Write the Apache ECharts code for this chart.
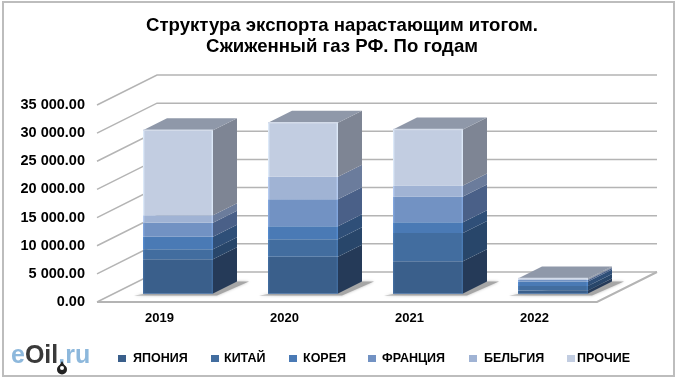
<!DOCTYPE html>
<html>
<head>
<meta charset="utf-8">
<style>
  html, body { margin: 0; padding: 0; background: #fff; }
  #chart { width: 680px; height: 384px; }
</style>
<script src="https://cdn.jsdelivr.net/npm/echarts@6/dist/echarts.min.js"></script>
</head>
<body>
<div id="chart"></div>
<script>
var years = ['2019', '2020', '2021', '2022'];
var seriesNames = ['ЯПОНИЯ', 'КИТАЙ', 'КОРЕЯ', 'ФРАНЦИЯ', 'БЕЛЬГИЯ', 'ПРОЧИЕ'];
var japan = [6100, 6510, 5740, 550];
var china = [1780, 3140, 5030, 800];
var korea = [2190, 2310, 1890, 800];
var france = [2490, 4800, 4560, 250];
var belgium = [1360, 3970, 1950, 130];
var other = [15100, 9590, 9950, 130];
var yTicks = [0, 5000, 10000, 15000, 20000, 25000, 30000, 35000];

var frontColors = ['#3a5f8b', '#426d9f', '#4a7ab5', '#7292c3', '#a0b3d4', '#c2cde1'];
var sideColors = ['#253a58', '#28466a', '#2f4f78', '#4a6088', '#6b7c9c', '#7e8594'];
var topColor = '#8f98a9';
var wallColor = '#b4b4b4';

var table = [japan, china, korea, france, belgium, other];

// 3d offsets in px
var wallDx = 60, wallDy = -30;
var floorDx = 18.5, floorDy = -8.5;
var barDx = 24, barDy = -12;
var barHalf = 35;

// legend entries are spaced unevenly in the original
var legendLeft = [118, 211, 289, 368, 469, 567];
var legendTextPad = [2, 0, 1, 1, 2, -3];

function edgeFill(color) {
    var lighter = echarts.color.lift(color, -0.18);
    return new echarts.graphic.LinearGradient(0, 0, 1, 0, [
        { offset: 0, color: lighter },
        { offset: 0.03, color: color },
        { offset: 0.97, color: color },
        { offset: 1, color: lighter }
    ]);
}

// walls + floor, drawn behind the bars
function renderWall(params, api) {
    var p = api.coord([0, api.value(0)]);
    var band = api.size([1, 0])[0];
    var x0 = p[0] - band / 2;
    var x1 = x0 + band * years.length;
    var y = p[1];
    var style = { stroke: wallColor, lineWidth: 1.5, fill: null };
    return {
        type: 'group',
        children: [
            { type: 'polyline', shape: { points: [[x0, y], [x0 + wallDx, y + wallDy], [x1 + wallDx, y + wallDy]] }, style: style },
            api.value(0) === 0 ? {
                type: 'polyline',
                shape: { points: [[x0, y], [x1, y], [x1 + wallDx, y + wallDy]] },
                style: { stroke: wallColor, lineWidth: 2, fill: null }
            } : { type: 'group', children: [] }
        ]
    };
}

function renderShadow(params, api) {
    var p = api.coord([api.value(0), 0]);
    var cx = p[0] + floorDx, y = p[1] + floorDy;
    return {
        type: 'polygon',
        shape: { points: [
            [cx - barHalf - 9, y + 2], [cx + barHalf + 4, y + 2],
            [cx + barHalf + barDx + 12, y + barDy], [cx + barHalf + barDx, y + barDy]
        ] },
        style: { fill: '#a6a6a6', shadowBlur: 3, shadowColor: '#bbb' }
    };
}

function makeRender(idx) {
    return function (params, api) {
        var i = api.value(0);
        var a = api.coord([i, api.value(1)]);
        var b = api.coord([i, api.value(2)]);
        var left = a[0] + floorDx - barHalf;
        var right = a[0] + floorDx + barHalf;
        var y0 = a[1] + floorDy;
        var y1 = b[1] + floorDy;
        var children = [
            { type: 'rect', shape: { x: left, y: y1, width: right - left, height: y0 - y1 }, style: { fill: edgeFill(frontColors[idx]) } },
            { type: 'polygon', shape: { points: [[right, y0], [right + barDx, y0 + barDy], [right + barDx, y1 + barDy], [right, y1]] }, style: { fill: sideColors[idx] } }
        ];
        if (idx === 0) {
            children.push({ type: 'line', shape: { x1: left, y1: y0, x2: right, y2: y0 }, style: { stroke: '#5d80ab', lineWidth: 1 } });
        }
        if (idx === table.length - 1) {
            children.push({ type: 'polygon', shape: { points: [[left, y1], [right, y1], [right + barDx, y1 + barDy], [left + barDx, y1 + barDy]] }, style: { fill: topColor } });
            children.push({ type: 'line', shape: { x1: left, y1: y1, x2: right, y2: y1 }, style: { stroke: '#d3dbe9', lineWidth: 1.5 } });
        }
        return { type: 'group', children: children };
    };
}

var series = [
    { type: 'custom', name: 'walls', renderItem: renderWall, data: yTicks.map(function (v) { return [v]; }), encode: { y: 0 }, silent: true, z: 1 },
    { type: 'custom', name: 'shadow', renderItem: renderShadow, data: years.map(function (y, i) { return [i]; }), encode: { x: 0 }, silent: true, z: 2 }
];

seriesNames.forEach(function (name, s) {
    series.push({
        type: 'custom',
        name: name,
        itemStyle: { color: frontColors[s] },
        renderItem: makeRender(s),
        z: 3,
        encode: { x: 0, y: [1, 2] },
        data: years.map(function (y, i) {
            var base = 0;
            for (var k = 0; k < s; k++) base += table[k][i];
            return [i, base, base + table[s][i]];
        })
    });
});

var chart = echarts.init(document.getElementById('chart'), null, { renderer: 'canvas' });

chart.setOption({
    animation: false,
    backgroundColor: '#fff',
    textStyle: { fontFamily: 'Liberation Sans' },
    title: {
        text: 'Структура экспорта нарастающим итогом.\nСжиженный газ РФ. По годам',
        left: 337,
        top: 10,
        textAlign: 'center',
        textStyle: { fontSize: 18.6, fontWeight: 'bold', color: '#000', lineHeight: 21, fontFamily: 'Liberation Sans' }
    },
    legend: seriesNames.map(function (name, i) {
        return {
            data: [name],
            left: legendLeft[i],
            top: 352,
            padding: 0,
            itemWidth: 8,
            itemHeight: 7,
            icon: 'rect',
            textStyle: { fontSize: 12.5, fontWeight: 'bold', color: '#000', padding: [0, 0, 0, legendTextPad[i]] }
        };
    }),
    grid: { left: 97, top: 105, width: 500, height: 197 },
    xAxis: {
        type: 'category',
        data: years,
        axisLine: { show: false },
        axisTick: { show: false },
        axisLabel: { fontSize: 13, fontWeight: 'bold', color: '#000', margin: 10 }
    },
    yAxis: {
        type: 'value',
        min: 0,
        max: 35000,
        interval: 5000,
        axisLine: { show: false },
        axisTick: { show: false },
        splitLine: { show: false },
        axisLabel: {
            fontSize: 14.5,
            fontWeight: 'bold',
            color: '#000',
            margin: 12,
            padding: [5, 0, 0, 0],
            formatter: function (v) {
                return v.toFixed(2).replace(/\B(?=(\d{3})(?=\.))/g, ' ');
            }
        }
    },
    graphic: [
        { type: 'rect', shape: { x: 3, y: 2, width: 671, height: 374 }, style: { fill: null, stroke: '#bdbdbd', lineWidth: 2 }, z: 0 },
        {
            type: 'text', left: 11, top: 344, z: 10,
            style: {
                text: '{a|e}{b|Oil}{a|.ru}',
                rich: {
                    a: { fontSize: 25, fontWeight: 'bold', fill: '#8db8dc', fontFamily: 'Liberation Sans' },
                    b: { fontSize: 25, fontWeight: 'bold', fill: '#3a3a3a', fontFamily: 'Liberation Sans' }
                }
            }
        },
        { type: 'polygon', shape: { points: [[62, 361], [57.5, 369], [66.5, 369]] }, style: { fill: '#222' }, z: 11 },
        { type: 'circle', shape: { cx: 62, cy: 369.5, r: 5 }, style: { fill: '#222' }, z: 11 },
        { type: 'circle', shape: { cx: 62, cy: 368, r: 2 }, style: { fill: '#fff' }, z: 12 }
    ],
    series: series
});
</script>
</body>
</html>
